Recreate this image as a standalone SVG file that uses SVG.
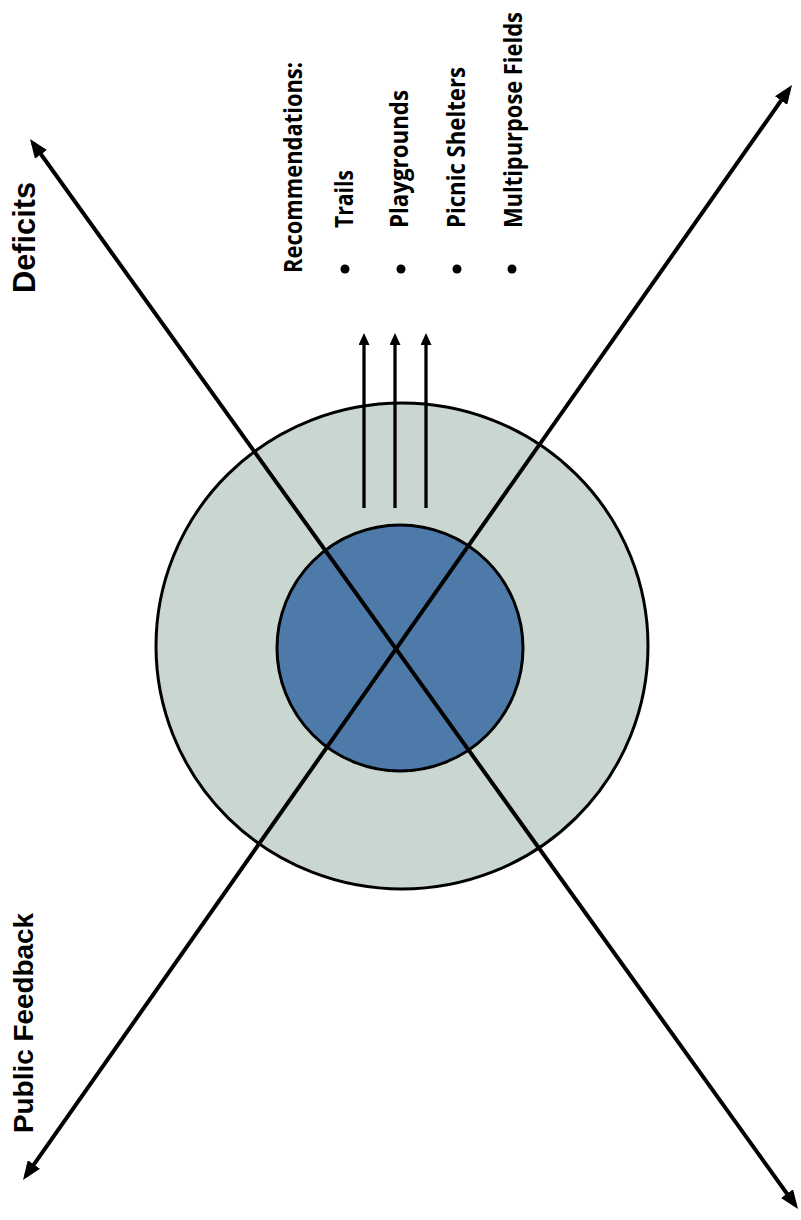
<svg xmlns="http://www.w3.org/2000/svg" width="801" height="1220" viewBox="0 0 801 1220">
<style>
.axis{font-family:"Liberation Sans",Arial,sans-serif;font-weight:bold;fill:#000}
.rec{font-family:"Open Sans",Lato,sans-serif;font-weight:bold;font-size:25px;fill:#000}
.big{stroke:#000;stroke-width:4;fill:none}
.small{stroke:#000;stroke-width:3.3;fill:none}
.ring{stroke:#000;stroke-width:3}
</style>
<defs>
<marker id="ah" markerUnits="userSpaceOnUse" markerWidth="19" markerHeight="15" refX="14" refY="7.5" orient="auto-start-reverse" viewBox="0 0 19 15">
<path d="M0,0 L19,7.5 L0,15 z" fill="#000"/>
</marker>
<marker id="sh" markerUnits="userSpaceOnUse" markerWidth="12" markerHeight="11" refX="8" refY="5.5" orient="auto" viewBox="0 0 12 11">
<path d="M0,0 L12,5.5 L0,11 z" fill="#000"/>
</marker>
</defs>
<rect width="801" height="1220" fill="#fff"/>
<g id="outer-circle">
<ellipse class="ring" cx="402" cy="646" rx="246" ry="243" fill="#cad6d0"/>
</g>
<g id="inner-circle">
<circle class="ring" cx="400" cy="648" r="123" fill="#4e7aa9"/>
</g>
<g id="connectors">
<path class="big" d="M32.9,143 L795.1,1205" marker-start="url(#ah)" marker-end="url(#ah)"/>
<path class="big" d="M25.9,1175.9 L789.1,89.1" marker-start="url(#ah)" marker-end="url(#ah)"/>
<path class="small" d="M364,508 L364,337" marker-end="url(#sh)"/>
<path class="small" d="M395,508 L395,337" marker-end="url(#sh)"/>
<path class="small" d="M426,508 L426,337" marker-end="url(#sh)"/>
</g>
<g id="deficits">
<text class="axis" font-size="30.5" transform="translate(35,293) rotate(-90)" textLength="111" lengthAdjust="spacingAndGlyphs">Deficits</text>
</g>
<g id="public-feedback">
<text class="axis" font-size="28" transform="translate(33,1133) rotate(-90)" textLength="220" lengthAdjust="spacingAndGlyphs">Public Feedback</text>
</g>
<g id="recommendations">
<text class="rec" transform="translate(302,273) rotate(-90)" textLength="211" lengthAdjust="spacingAndGlyphs">Recommendations:</text>
<circle cx="345" cy="269" r="4.5" fill="#000"/>
<text class="rec" transform="translate(353,228) rotate(-90)" textLength="58" lengthAdjust="spacingAndGlyphs">Trails</text>
<circle cx="401" cy="269" r="4.5" fill="#000"/>
<text class="rec" transform="translate(408,228) rotate(-90)" textLength="138" lengthAdjust="spacingAndGlyphs">Playgrounds</text>
<circle cx="457" cy="269" r="4.5" fill="#000"/>
<text class="rec" transform="translate(465,228) rotate(-90)" textLength="161" lengthAdjust="spacingAndGlyphs">Picnic Shelters</text>
<circle cx="512" cy="269" r="4.5" fill="#000"/>
<text class="rec" transform="translate(522,228) rotate(-90) scale(0.86,1)" textLength="251" lengthAdjust="spacingAndGlyphs">Multipurpose Fields</text>
</g>
</svg>
